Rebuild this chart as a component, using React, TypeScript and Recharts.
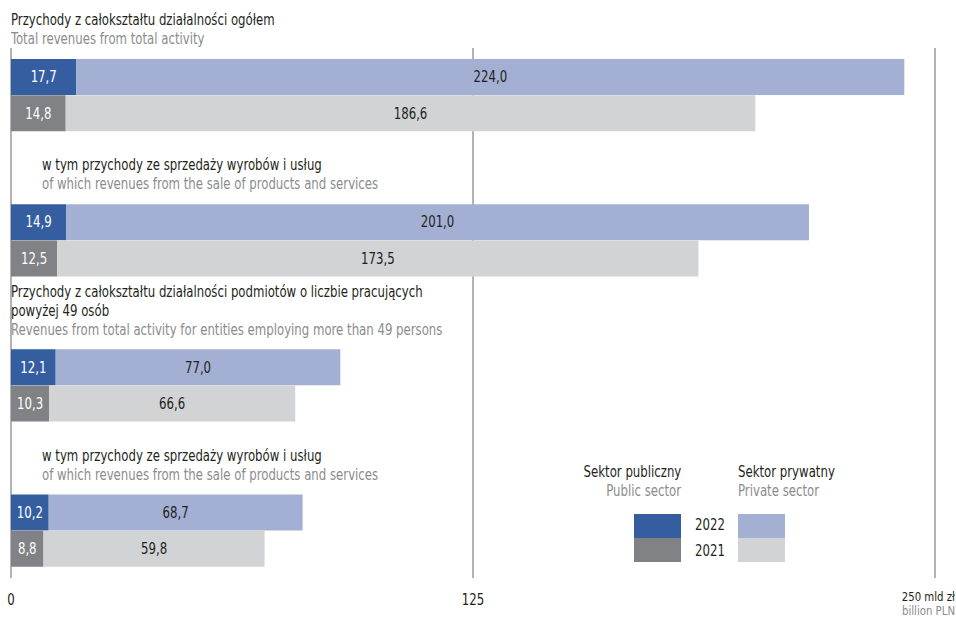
import { BarChart, Bar, XAxis, YAxis, CartesianGrid, Cell, LabelList } from 'recharts'

const FONT = '"Liberation Sans Narrow", "DejaVu Sans Condensed", sans-serif'
const SX = 0.87 // squeeze the condensed font toward the original's narrow face

const headingsPl = [
  ['Przychody z całokształtu działalności ogółem'],
  ['w tym przychody ze sprzedaży wyrobów i usług'],
  ['Przychody z całokształtu działalności podmiotów o liczbie pracujących', 'powyżej 49 osób'],
  ['w tym przychody ze sprzedaży wyrobów i usług'],
]
const headingsEn = [
  'Total revenues from total activity',
  'of which revenues from the sale of products and services',
  'Revenues from total activity for entities employing more than 49 persons',
  'of which revenues from the sale of products and services',
]
const isSubItem = [false, true, false, true]

const public2022 = [17.7, 14.9, 12.1, 10.2]
const private2022 = [224.0, 201.0, 77.0, 68.7]
const public2021 = [14.8, 12.5, 10.3, 8.8]
const private2021 = [186.6, 173.5, 66.6, 59.8]

const xTicks = [0, 125, 250]

const colors = {
  pub2022: '#345e9f',
  priv2022: '#a3b0d4',
  pub2021: '#808285',
  priv2021: '#d1d3d4',
  grid: '#9a9a9a',
  text: '#231f20',
  dim: '#8a8c8e',
}

type Row = {
  key: string
  group: number
  year: number | null
  pub: number | null
  priv: number | null
}

const rows: Row[] = []
headingsPl.forEach((_, i) => {
  rows.push({ key: `g${i}-2022`, group: i, year: 2022, pub: public2022[i], priv: private2022[i] })
  rows.push({ key: `g${i}-2021`, group: i, year: 2021, pub: public2021[i], priv: private2021[i] })
  if (i < headingsPl.length - 1) {
    rows.push({ key: `g${i}-gap1`, group: i, year: null, pub: null, priv: null })
    rows.push({ key: `g${i}-gap2`, group: i, year: null, pub: null, priv: null })
  }
})

const fmt = (v: any) => (v == null ? '' : Number(v).toFixed(1).replace('.', ','))

function Narrow({ x, y, anchor = 'start', fill = colors.text, size = 15, children }: any) {
  return (
    <text
      transform={`translate(${x},${y}) scale(${SX},1)`}
      textAnchor={anchor}
      dy="0.35em"
      fontFamily={FONT}
      fontSize={size}
      fill={fill}
    >
      {children}
    </text>
  )
}

// heading drawn above the first (2022) bar of each group
function HeadingLabel(props: any) {
  const { x, y, height, value } = props
  const row = rows.find((r) => r.key === value)
  if (!row || row.year !== 2022) return null
  const g = row.group
  const tx = x + (isSubItem[g] ? 31 : 0)
  const pl = headingsPl[g]
  const enY = y + height / 2 - 38
  return (
    <g>
      {pl.map((line, j) => (
        <Narrow key={j} x={tx} y={enY - 19 * (pl.length - j)}>
          {line}
        </Narrow>
      ))}
      <Narrow x={tx} y={enY} fill={colors.dim}>
        {headingsEn[g]}
      </Narrow>
    </g>
  )
}

function ValueLabel(props: any) {
  const { x, y, width, height, value, textColor } = props
  if (value == null || value === '') return null
  return (
    <Narrow x={x + width / 2} y={y + height / 2} anchor="middle" fill={textColor}>
      {fmt(value)}
    </Narrow>
  )
}

function ValueTick(props: any) {
  const { x, y, payload } = props
  if (payload.value === 250) {
    return (
      <g>
        <Narrow x={x + 20} y={y + 18} anchor="end" size={13}>
          250 mld zł
        </Narrow>
        <Narrow x={x + 20} y={y + 32} anchor="end" fill={colors.dim} size={13}>
          billion PLN
        </Narrow>
      </g>
    )
  }
  return (
    <Narrow x={x} y={y + 22} anchor="middle" size={15}>
      {payload.value}
    </Narrow>
  )
}

function LegendBox() {
  const label = {
    position: 'absolute' as const,
    fontFamily: FONT,
    fontSize: 15,
    lineHeight: '19px',
    whiteSpace: 'nowrap' as const,
  }
  const right = { ...label, right: 956 - 681, textAlign: 'right' as const, transform: `scaleX(${SX})`, transformOrigin: 'right' }
  const left = { ...label, transform: `scaleX(${SX})`, transformOrigin: 'left' }
  const swatch = (l: number, t: number, color: string) => (
    <div style={{ position: 'absolute', left: l, top: t, width: 47, height: 24, background: color }} />
  )
  return (
    <>
      <div style={{ ...right, top: 463, color: colors.text }}>Sektor publiczny</div>
      <div style={{ ...right, top: 482, color: colors.dim }}>Public sector</div>
      <div style={{ ...left, left: 738, top: 463, color: colors.text }}>Sektor prywatny</div>
      <div style={{ ...left, left: 738, top: 482, color: colors.dim }}>Private sector</div>
      {swatch(634, 514, colors.pub2022)}
      {swatch(634, 538, colors.pub2021)}
      {swatch(738, 514, colors.priv2022)}
      {swatch(738, 538, colors.priv2021)}
      <div style={{ ...left, left: 695, top: 516, color: colors.text }}>2022</div>
      <div style={{ ...left, left: 695, top: 542, color: colors.text }}>2021</div>
    </>
  )
}

export default function App() {
  return (
    <div style={{ position: 'relative', width: 956, height: 618, background: '#fff' }}>
      <style>{'body{margin:0}'}</style>
      <BarChart
        width={956}
        height={618}
        data={rows}
        layout="vertical"
        margin={{ top: 48, right: 21, bottom: 10, left: 11 }}
        barCategoryGap={0}
      >
        <CartesianGrid horizontal={false} stroke={colors.grid} strokeWidth={1.5} />
        <XAxis
          type="number"
          domain={[0, 250]}
          ticks={xTicks}
          axisLine={false}
          tickLine={false}
          tickSize={0}
          tickMargin={0}
          height={30}
          tick={<ValueTick />}
          interval={0}
        />
        <YAxis type="category" dataKey="key" width={0} hide padding={{ top: 11, bottom: 11 }} />
        <Bar dataKey="pub" stackId="a" isAnimationActive={false}>
          {rows.map((r) => (
            <Cell key={r.key} fill={r.year === 2021 ? colors.pub2021 : colors.pub2022} />
          ))}
          <LabelList dataKey="pub" content={<ValueLabel textColor="#ffffff" />} />
          <LabelList dataKey="key" content={<HeadingLabel />} />
        </Bar>
        <Bar dataKey="priv" stackId="a" isAnimationActive={false}>
          {rows.map((r) => (
            <Cell key={r.key} fill={r.year === 2021 ? colors.priv2021 : colors.priv2022} />
          ))}
          <LabelList dataKey="priv" content={<ValueLabel textColor={colors.text} />} />
        </Bar>
      </BarChart>
      <LegendBox />
    </div>
  )
}
